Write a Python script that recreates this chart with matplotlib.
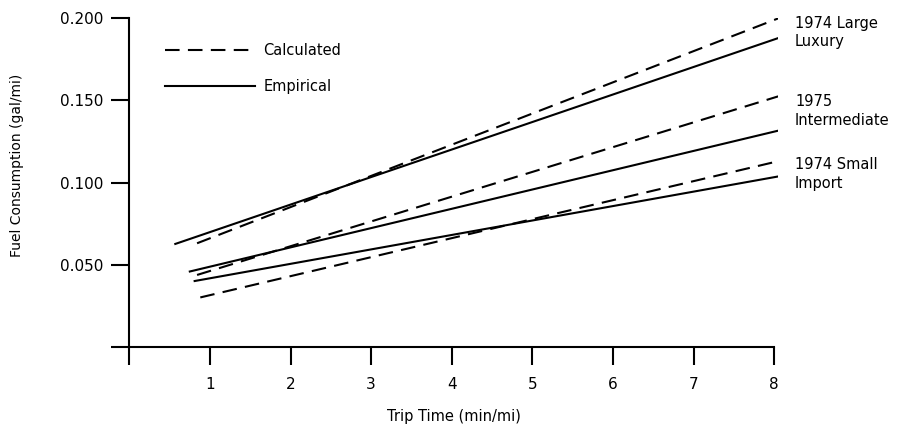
import matplotlib
matplotlib.use("Agg")
import matplotlib.pyplot as plt

# Line end points (trip time in min/mi, fuel in gal/mi)
vehicles = ["1974 Large\nLuxury", "1975\nIntermediate", "1974 Small\nImport"]
label_y = [0.1913, 0.1435, 0.1053]

calc_x = [[0.84, 8.05], [0.84, 8.05], [0.88, 8.05]]
calc_y = [[0.063, 0.200], [0.0437, 0.1525], [0.030, 0.113]]

emp_x = [[0.57, 8.05], [0.75, 8.05], [0.81, 8.05]]
emp_y = [[0.0626, 0.188], [0.0458, 0.1316], [0.040, 0.1037]]

x_ticks = [0, 1, 2, 3, 4, 5, 6, 7, 8]
x_ticklabels = ["", "1", "2", "3", "4", "5", "6", "7", "8"]
y_ticks = [0, 0.05, 0.10, 0.15, 0.20]
y_ticklabels = ["", "0.050", "0.100", "0.150", "0.200"]

fig = plt.figure(figsize=(9.04, 4.28), dpi=100)
ax = fig.add_axes([0.1431, 0.19, 0.7177, 0.767])

lw = 1.5
for i in range(len(vehicles)):
    ax.plot(calc_x[i], calc_y[i], color="black", lw=lw, dashes=(7, 4),
            label="Calculated" if i == 0 else None)
    ax.plot(emp_x[i], emp_y[i], color="black", lw=lw,
            label="Empirical" if i == 0 else None)
    ax.text(8.26, label_y[i], vehicles[i], fontsize=10.5, va="center",
            ha="left", linespacing=1.3, clip_on=False)

ax.set_xlim(0, 8.05)
ax.set_ylim(0, 0.2)
ax.set_xticks(x_ticks)
ax.set_xticklabels(x_ticklabels)
ax.set_yticks(y_ticks)
ax.set_yticklabels(y_ticklabels)

for side in ["top", "right"]:
    ax.spines[side].set_visible(False)
ax.spines["bottom"].set_bounds(0, 8)
for side in ["left", "bottom"]:
    ax.spines[side].set_linewidth(1.5)

ax.tick_params(axis="both", direction="out", length=13, width=1.5,
               labelsize=11)
ax.tick_params(axis="x", pad=9)
ax.tick_params(axis="y", pad=6)

ax.set_xlabel("Trip Time (min/mi)", fontsize=10.5, labelpad=12)
ax.set_ylabel("Fuel Consumption (gal/mi)", fontsize=10)
ax.yaxis.set_label_coords(-0.163, 0.553)

ax.legend(loc="upper left", bbox_to_anchor=(0.055, 0.925), frameon=False,
          fontsize=10.5, handlelength=6.2, handletextpad=0.55,
          labelspacing=1.45, borderpad=0, borderaxespad=0)

fig.savefig("out.png", dpi=100)
